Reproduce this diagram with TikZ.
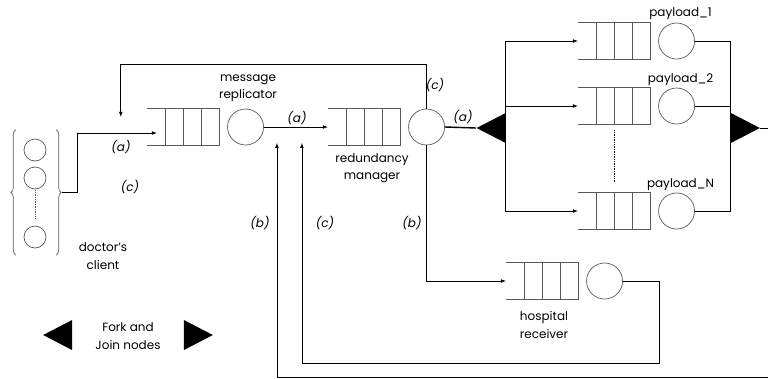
\documentclass[tikz,border=0pt]{standalone}
\usepackage{fontspec}
\setmainfont{Poppins}
\usetikzlibrary{calc,positioning,shapes.geometric,decorations.pathreplacing}
\definecolor{linegray}{gray}{0.35}
\tikzset{>=latex, % small filled tips
  network/.style={x=1pt, y=-1pt, font=\fontsize{12}{14}\selectfont},
  qbox/.style={minimum width=72pt, minimum height=36pt, inner sep=0pt},
  qline/.style={draw=linegray, line width=0.7pt},
  server/.style={circle, draw=linegray, line width=0.7pt,
    minimum size=36pt, inner sep=0pt},
  flow/.style={line width=0.7pt},
  forknode/.style={isosceles triangle, isosceles triangle stretches,
    fill, inner sep=0pt, minimum width=30pt, minimum height=29pt},
  tag/.style={font=\fontsize{12}{14}\selectfont\itshape},
  caption/.style={align=center, font=\fontsize{12}{17.5}\selectfont},
  curly/.style={qline, decorate, decoration={brace, amplitude=5pt}},
}
\def\queue(#1){(#1.north west) -- (#1.north east) -- (#1.south east) -- (#1.south west)
  ($(#1.north west)!0.25!(#1.north east)$) -- ($(#1.south west)!0.25!(#1.south east)$)
  ($(#1.north west)!0.5!(#1.north east)$) -- ($(#1.south west)!0.5!(#1.south east)$)
  ($(#1.north west)!0.75!(#1.north east)$) -- ($(#1.south west)!0.75!(#1.south east)$)}

\begin{document}
\begin{tikzpicture}[network]
  \useasboundingbox (0,0) rectangle (768,378);

  % doctor's client
  \node [minimum width=40pt, minimum height=125pt, inner sep=0pt]
  (client) at (36,192.5) {};
  \node [server, minimum size=22pt] (c1) at (35,150) {};
  \node [server, minimum size=22pt] (c2) at (35,178) {};
  \node [server, minimum size=22pt] (c3) at (35,237) {};
  \draw [qline, densely dotted, shorten <=1pt, shorten >=7pt] (c2.south) -- (c3.north);
  \draw [curly] (client.south west) -- (client.north west);
  \draw [curly] (client.north east) -- (client.south east);
  \node [caption] (dctext) at (103,256) {doctor's\\client};

  % message replicator and redundancy manager
  \node [qbox] (mrq) at (183,127) {};
  \node [server, right=8pt of mrq] (mrs) {};
  \draw [qline] \queue(mrq);
  \node [caption] (mrtext) at (248,88) {message\\replicator};

  \node [qbox] (rmq) at (364,127) {};
  \node [server, right=8pt of rmq] (rms) {};
  \draw [qline] \queue(rmq);
  \node [caption] (rmtext) at (372,168) {redundancy\\manager};

  % payload servers
  \foreach \i/\y/\t in {1/41/1, 2/106/2, n/211/N} {
    \node [qbox] (pq\i) at (614,\y) {};
    \node [server, right=8pt of pq\i] (ps\i) {};
    \node [above=-1pt of ps\i, xshift=4pt] (pl\i) {payload\_\t};
    \draw [qline] \queue(pq\i);
  }
  \draw [flow, densely dotted] ($(pq2.south)+(0,6)$) -- ($(pqn.north)+(0,-11)$);

  % hospital receiver
  \node [qbox] (hq) at (542,281) {};
  \node [server, right=8pt of hq] (hs) {};
  \draw [qline] \queue(hq);
  \node [caption] (hrtext) at (544,325) {hospital\\receiver};

  % fork and join
  \node [forknode, shape border rotate=180] (fork) at (496.5,128) {};
  \node [forknode] (join) at (740,128) {};

  % connectors
  \draw [flow,->] ($(client.east)+(6,0)$) -- ++(15,0) |- ($(mrq.west)+(10,6)$);
  \draw [flow,->] (rms.north) -- ++(0,-44) -| ($(mrq.north west)+(-26,8)$);
  \draw [flow,->] (mrs.east) -- (rmq.west);
  \draw [line width=1.4pt] (rms.east) -- (fork.apex);
  \foreach \i in {1,2,n} \draw [flow,->] (fork.lower side) |- (pq\i.west);
  \foreach \i in {1,2,n} \draw [flow] (ps\i.east) -| (join.lower side);
  \draw [flow,->] (rms.south) |- (hq.west);

  \coordinate (bin) at ($(mrs.east)+(13,16)$);
  \coordinate (cin) at ($(mrs.east)+(38,16)$);
  \draw [flow,->] (hs.east) -- ++(36,0) |- ($(cin)+(0,220)$) -- (cin);
  \draw [flow,->] (join.apex) -- ++(40,0) |- ($(bin)+(0,234)$) -- (bin);

  % labels
  \node [tag] (ta1) at (121,147) {(a)};
  \node [tag] (tc1) at (130,187) {(c)};
  \node [tag] (ta2) at (297,118) {(a)};
  \node [tag] (tc2) at (435,85) {(c)};
  \node [tag] (ta3) at (463,117) {(a)};
  \node [tag] (tb1) at (260,223) {(b)};
  \node [tag] (tc3) at (325,223) {(c)};
  \node [tag] (tb2) at (412,223) {(b)};

  % legend
  \node [forknode, shape border rotate=180] (lfork) at (63,335) {};
  \node [forknode] (ljoin) at (193,335) {};
  \node [caption] (legend) at (128,336) {Fork and\\Join nodes};
\end{tikzpicture}
\end{document}
